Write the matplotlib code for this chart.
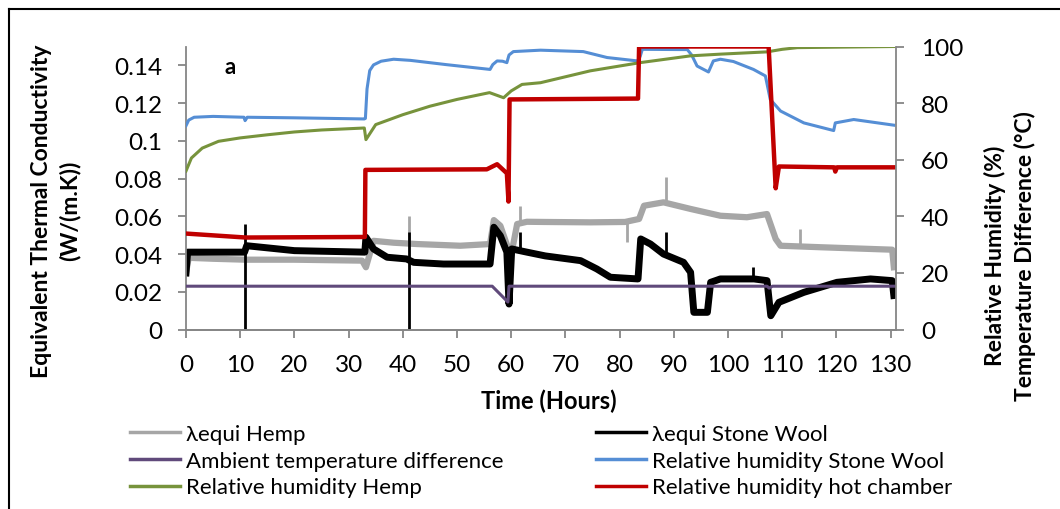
import matplotlib
matplotlib.use("Agg")
import matplotlib.pyplot as plt
from matplotlib.lines import Line2D

plt.rcParams['font.family'] = ['Lato', 'DejaVu Sans']

# lambda equi hemp (W/(m.K)), smoothed centre of the noisy band
hemp_t = [0, 0.5, 5, 11, 20, 32.5, 33.2, 34.6, 38.3, 42.6, 50.6, 56.1, 56.8, 58, 59.2, 59.7,
          61.1, 62.9, 66, 74.6, 81.0, 83.6, 84.5, 88.1, 93.1, 98.6, 103.5, 107.2, 108.8,
          109.7, 117.1, 123.2, 130.3, 130.6]
hemp_v = [0.030, 0.038, 0.0375, 0.037, 0.037, 0.0365, 0.033, 0.047, 0.046, 0.0453, 0.0444,
          0.0453, 0.058, 0.055, 0.045, 0.035, 0.0559, 0.0571, 0.057, 0.0568, 0.057, 0.0586,
          0.0656, 0.0674, 0.0639, 0.0603, 0.0595, 0.0612, 0.048, 0.0444, 0.0436, 0.043,
          0.0423, 0.033]
# spikes on the hemp curve: hour, low, high
hemp_spike_t = [41.1, 61.7, 81.3, 88.6, 113.3]
hemp_spike_lo = [0.046, 0.056, 0.0462, 0.067, 0.044]
hemp_spike_hi = [0.060, 0.0656, 0.057, 0.0807, 0.0533]

# lambda equi stone wool
wool_t = [0, 0.3, 5, 10.8, 11.2, 20, 33, 33.2, 34.6, 37.1, 40.7, 42, 47.5, 56.1, 56.8, 58,
          59.2, 59.6, 60.1, 62.9, 66.3, 72.8, 75.8, 78.3, 83.4, 83.9, 85.7, 88.1, 91.8,
          93.1, 93.7, 96.2, 96.8, 98.6, 104.8, 107.2, 107.9, 109.4, 114, 120.1, 126.3,
          130.3, 130.6]
wool_v = [0.030, 0.041, 0.041, 0.041, 0.0444, 0.0418, 0.041, 0.0489, 0.0427, 0.0383, 0.0374,
          0.0356, 0.0347, 0.0347, 0.0542, 0.0497, 0.041, 0.0135, 0.0427, 0.041, 0.039,
          0.0365, 0.0321, 0.0277, 0.0268, 0.048, 0.0453, 0.040, 0.0356, 0.0303, 0.0091,
          0.0091, 0.025, 0.0268, 0.0268, 0.0259, 0.0073, 0.0144, 0.0197, 0.025, 0.0268,
          0.0259, 0.018]
wool_spike_t = [10.9, 41.2, 61.7, 88.6, 104.7]
wool_spike_lo = [0.0, 0.0, 0.041, 0.040, 0.027]
wool_spike_hi = [0.056, 0.0515, 0.0515, 0.0515, 0.033]

# ambient temperature difference (degC)
amb_t = [0, 56.5, 59.4, 59.6, 107.2, 107.6, 108.2, 130.6]
amb_v = [15.3, 15.3, 9.7, 15.3, 15.3, 14.6, 15.3, 15.3]

# relative humidity stone wool (%)
rh_wool_t = [0, 0.5, 1.5, 5, 10.7, 10.9, 11.3, 20, 32.9, 33.1, 33.4, 33.9, 34.6, 36, 38.3,
             41.4, 48, 56.1, 56.6, 57.4, 58.4, 59.2, 59.6, 60.4, 65.4, 73.3, 77.7, 83.3,
             83.8, 84.2, 92.5, 93.3, 94.3, 96.4, 97.3, 98.6, 101, 104.7, 106.9, 107.4,
             107.8, 109.7, 114, 119.5, 119.8, 123.2, 130.6]
rh_wool_v = [72, 74, 75, 75.3, 75, 73.8, 75, 74.8, 74.4, 74.6, 85, 91.5, 93.5, 94.8, 95.5,
             95.1, 93.6, 91.9, 93.6, 94.9, 94.8, 94.3, 97, 98.2, 98.7, 98.2, 96.1, 94.9,
             96.5, 99, 98.9, 97, 93.1, 91.0, 94.9, 95.5, 94.7, 91.9, 89.6, 85, 81.3, 77.2,
             73, 70.3, 73, 74.2, 72.2]

# relative humidity hemp (%)
rh_hemp_t = [0, 1, 3, 6, 10, 15, 20, 25, 32.9, 33.2, 35, 40, 45, 50, 56, 58.6, 60, 62, 65.4,
             74.6, 83.8, 93.1, 98.6, 107.2, 110, 112.8, 130.8]
rh_hemp_v = [56, 60.6, 64.1, 66.5, 67.7, 68.8, 69.8, 70.5, 71.2, 67.1, 72.4, 75.9, 78.9,
             81.3, 83.7, 81.9, 84.3, 86.6, 87.2, 91.4, 94.3, 96.7, 97.3, 98.1, 99.0, 99.6, 100]

# relative humidity hot chamber (%)
rh_hot_t = [0, 11, 33, 33.1, 55.5, 57.4, 59.2, 59.5, 59.7, 83.4, 83.6, 107.5, 108.8, 109.4,
            119.6, 119.8, 120.1, 130.6]
rh_hot_v = [33.9, 32.5, 32.7, 56.4, 56.6, 58.4, 55.2, 45.2, 81.3, 81.6, 100, 100, 49.9, 57.6,
            57.3, 55.8, 57.3, 57.3]

x_ticks = list(range(0, 131, 10))
left_ticks = [0, 0.02, 0.04, 0.06, 0.08, 0.1, 0.12, 0.14]
left_tick_labels = ['0', '0.02', '0.04', '0.06', '0.08', '0.1', '0.12', '0.14']
right_ticks = [0, 20, 40, 60, 80, 100]

labels = ['λequi Hemp', 'λequi Stone Wool', 'Ambient temperature difference',
          'Relative humidity Stone Wool', 'Relative humidity Hemp',
          'Relative humidity hot chamber']
colors = ['#A6A6A6', '#000000', '#604A7B', '#558ED5', '#77933C', '#C00000']

fig = plt.figure(figsize=(10.6, 5.1), dpi=100)
ax1 = fig.add_axes([186 / 1060, 1 - 330.5 / 510, 710 / 1060, 283 / 510])
ax2 = ax1.twinx()

# primary axis: conductivities
ax1.plot(hemp_t, hemp_v, color=colors[0], lw=4.5, solid_joinstyle='round')
ax1.vlines(hemp_spike_t, hemp_spike_lo, hemp_spike_hi, color=colors[0], lw=2)
ax1.plot(wool_t, wool_v, color=colors[1], lw=5, solid_joinstyle='round')
ax1.vlines(wool_spike_t, wool_spike_lo, wool_spike_hi, color=colors[1], lw=2)

# secondary axis: humidity and temperature difference
ax2.plot(amb_t, amb_v, color=colors[2], lw=2.2)
ax2.plot(rh_wool_t, rh_wool_v, color=colors[3], lw=2.2)
ax2.plot(rh_hemp_t, rh_hemp_v, color=colors[4], lw=2.2)
ax2.plot(rh_hot_t, rh_hot_v, color=colors[5], lw=3.2)

ax1.set_xlim(0, 131)
ax1.set_ylim(0, 0.15)
ax2.set_ylim(0, 100)
ax1.set_xticks(x_ticks)
ax1.set_yticks(left_ticks)
ax1.set_yticklabels(left_tick_labels)
ax2.set_yticks(right_ticks)

spine_col = '#868686'
for ax in (ax1, ax2):
    for s in ax.spines.values():
        s.set_color(spine_col)
        s.set_linewidth(1.3)
    ax.spines['top'].set_visible(False)
    ax.tick_params(colors=spine_col, labelcolor='black', labelsize=17.5, length=6, width=1.3)
ax1.spines['right'].set_visible(False)
ax2.spines['left'].set_visible(False)
ax1.tick_params(axis='x', pad=12)
ax1.tick_params(axis='y', pad=11)
ax2.tick_params(axis='y', pad=12)

ax1.set_xlabel('Time (Hours)', fontsize=17, fontweight='bold')
ax1.xaxis.set_label_coords(0.511, -0.207)
fig.text(230 / 1060, 1 - 67 / 510, 'a', fontsize=16, fontweight='bold', ha='center', va='center')

ylab = dict(rotation=90, fontsize=16.5, fontweight='bold', ha='center', va='center')
fig.text(42 / 1060, 1 - 211 / 510, 'Equivalent Thermal Conductivity', **ylab)
fig.text(70 / 1060, 1 - 211 / 510, '(W/(m.K))', **ylab)
fig.text(995 / 1060, 1 - 256 / 510, 'Relative Humidity (%)', **ylab)
fig.text(1025 / 1060, 1 - 256 / 510, 'Temperature Difference (°C)', **ylab)

# legend is row-major in the original, matplotlib fills columns first
handles = [Line2D([], [], color=colors[i], lw=2.5) for i in range(6)]
order = [0, 2, 4, 1, 3, 5]
fig.legend([handles[i] for i in order], [labels[i] for i in order], ncol=2,
           loc='upper left', bbox_to_anchor=(130 / 1060, 1 - 425 / 510), frameon=False,
           fontsize=16, handlelength=2.25, handletextpad=0.25, labelspacing=0.3,
           columnspacing=4.2, borderaxespad=0, borderpad=0)

# outer frame (only top and left edges visible)
fig.add_artist(Line2D([9 / 1060, 1.0], [1 - 10 / 510, 1 - 10 / 510], color='black', lw=1.5))
fig.add_artist(Line2D([9 / 1060, 9 / 1060], [0, 1 - 10 / 510], color='black', lw=1.5))

fig.savefig('out.png', dpi=100)
